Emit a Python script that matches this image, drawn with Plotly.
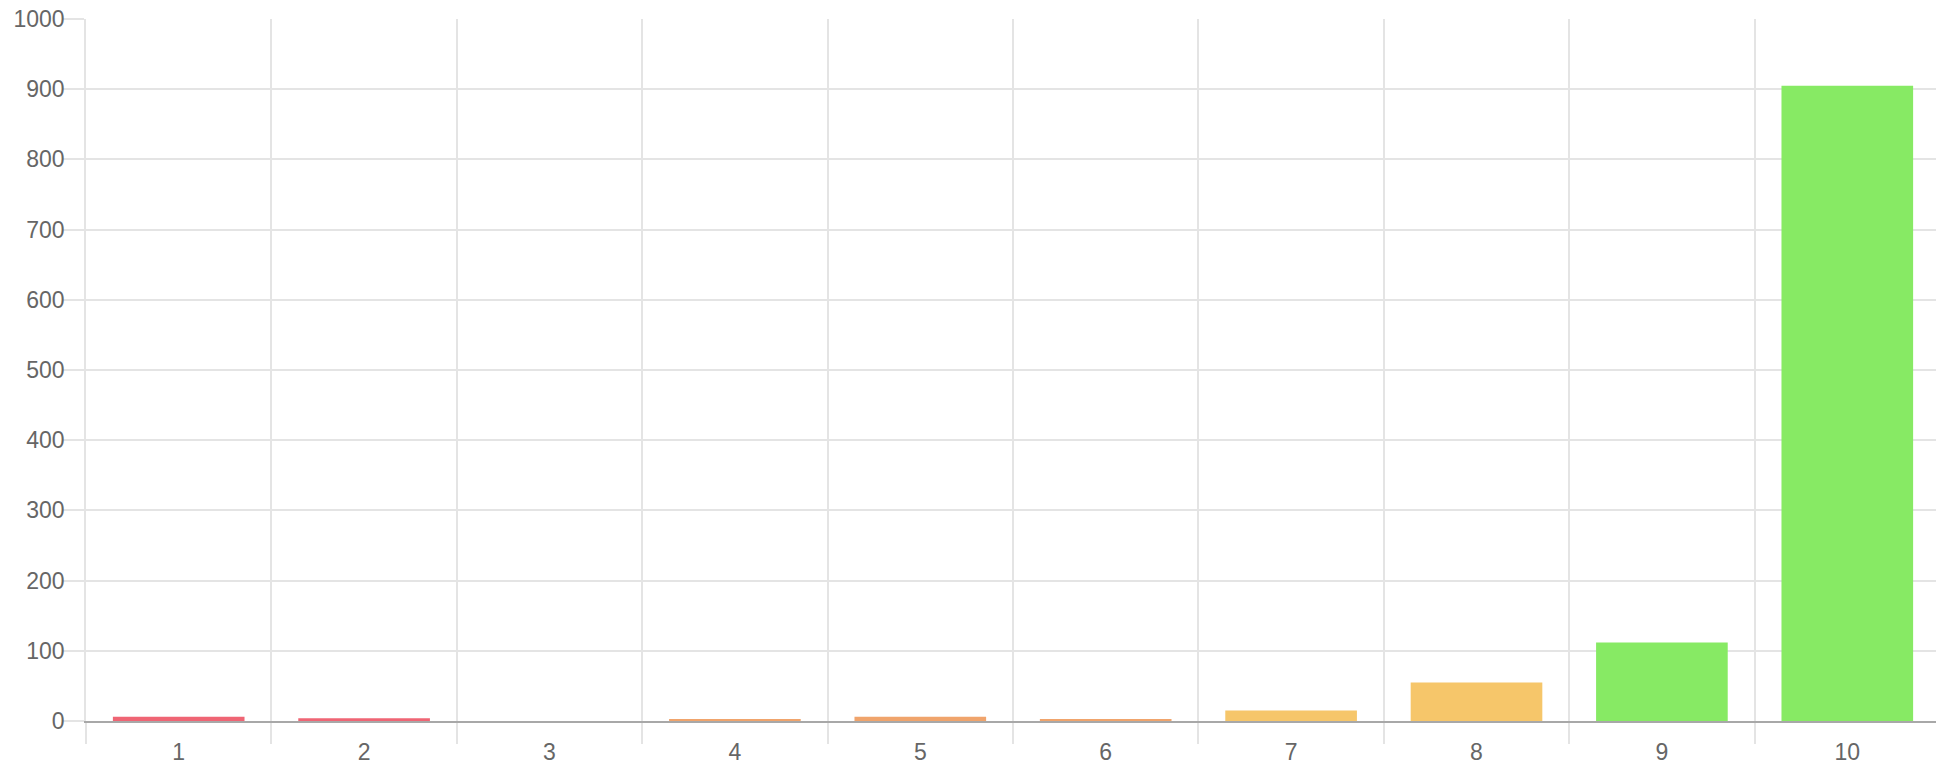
import plotly.graph_objects as go

# ratings 1..10 and how many votes each got
ratings = ['1', '2', '3', '4', '5', '6', '7', '8', '9', '10']
counts = [6, 4, 0, 3, 6, 3, 15, 55, 112, 905]
bar_colors = ['#ef6574', '#ef6574', '#f0a46c', '#f0a46c', '#f0a46c', '#f0a46c',
              '#f6c66a', '#f6c66a', '#87ea64', '#87ea64']
y_ticks = [0, 100, 200, 300, 400, 500, 600, 700, 800, 900, 1000]

grid = '#e4e4e4'
font = dict(family='Liberation Sans, Arial, sans-serif', size=23, color='#666666')

fig = go.Figure()

fig.add_trace(go.Bar(
    x=ratings,
    y=counts,
    marker=dict(color=bar_colors, line=dict(width=0)),
    hoverinfo='x+y'
))

# the page body has an 8px margin, so the figure is a bit smaller than the window
fig.update_layout(
    width=1934,
    height=766,
    margin=dict(l=78, r=2, t=11, b=53),
    plot_bgcolor='white',
    paper_bgcolor='white',
    bargap=0.29,
    showlegend=False,
    font=font,
    xaxis=dict(
        type='category',
        tickson='boundaries',
        ticks='outside',
        ticklen=21,
        tickcolor=grid,
        tickwidth=1.5,
        showgrid=True,
        gridcolor=grid,
        gridwidth=1.5,
        showline=True,
        linecolor='#a8a8a8',
        linewidth=2,
        ticklabelstandoff=9,
        automargin=False,
        tickfont=font
    ),
    yaxis=dict(
        range=[0, 1000],
        tickvals=y_ticks,
        ticktext=[str(v) for v in y_ticks],
        ticks='outside',
        ticklen=21,
        tickcolor=grid,
        tickwidth=1.5,
        showgrid=True,
        gridcolor=grid,
        gridwidth=1.5,
        zeroline=False,
        showline=True,
        linecolor=grid,
        linewidth=1.5,
        ticklabelstandoff=-6,
        ticklabeloverflow='allow',
        automargin=False,
        tickfont=font
    )
)

fig.write_html("out.html")
